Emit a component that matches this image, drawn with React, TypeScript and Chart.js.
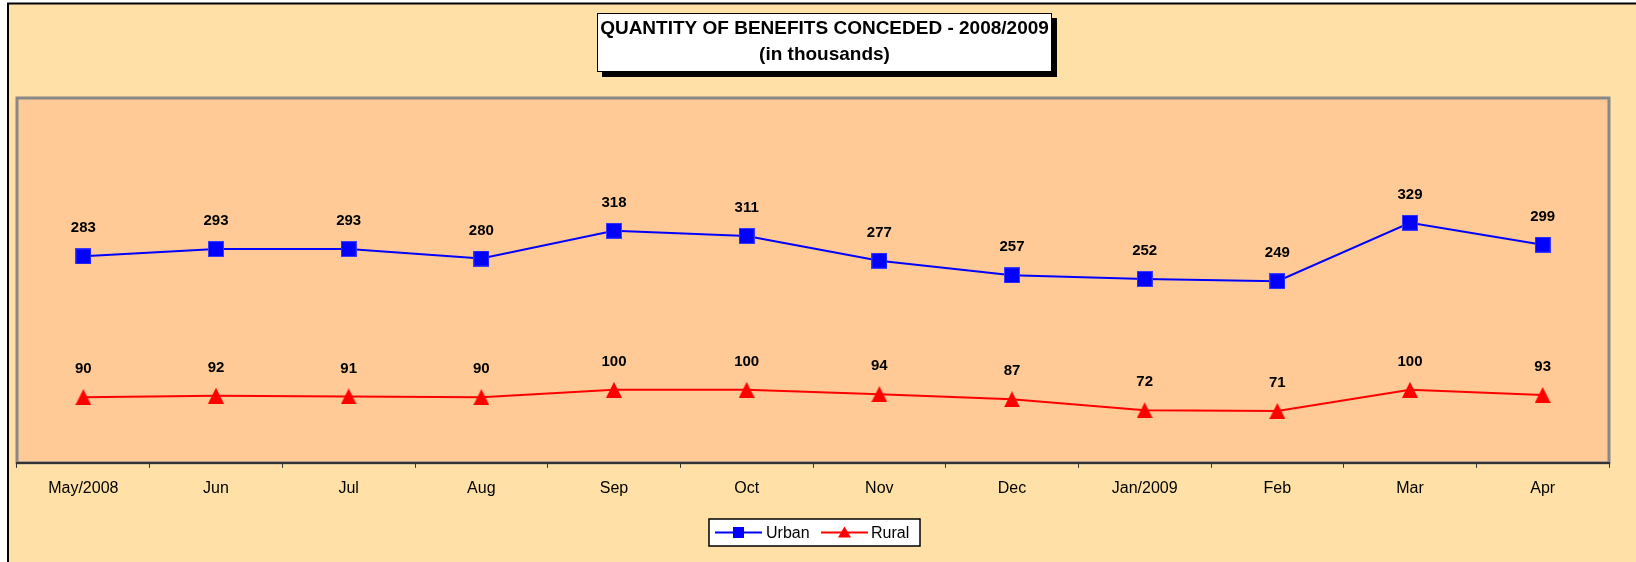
import React, { useEffect, useRef } from "react";
import { Chart, registerables } from "chart.js";

Chart.register(...registerables);

const categories = ["May/2008", "Jun", "Jul", "Aug", "Sep", "Oct", "Nov", "Dec", "Jan/2009", "Feb", "Mar", "Apr"];
const urbanValues = [283, 293, 293, 280, 318, 311, 277, 257, 252, 249, 329, 299];
const ruralValues = [90, 92, 91, 90, 100, 100, 94, 87, 72, 71, 100, 93];
const titleLines = ["QUANTITY OF BENEFITS CONCEDED - 2008/2009", "(in thousands)"];
const seriesNames = ["Urban", "Rural"];

const FONT = "'Liberation Sans', Arial, Helvetica, sans-serif";
const BLUE = "#0000FF";
const RED = "#FF0000";

function makeTriangle(color: string): HTMLCanvasElement {
  const c = document.createElement("canvas");
  c.width = 16;
  c.height = 16;
  const g = c.getContext("2d")!;
  g.fillStyle = color;
  g.beginPath();
  g.moveTo(8, 0);
  g.lineTo(16, 16);
  g.lineTo(0, 16);
  g.closePath();
  g.fill();
  return c;
}

function makeSquare(color: string, border: string): HTMLCanvasElement {
  const c = document.createElement("canvas");
  c.width = 16;
  c.height = 16;
  const g = c.getContext("2d")!;
  g.fillStyle = border;
  g.fillRect(0, 0, 16, 16);
  g.fillStyle = color;
  g.fillRect(1, 1, 14, 14);
  return c;
}

const backgroundPlugin = {
  id: "bgPlugin",
  beforeDraw(chart: any) {
    const { ctx, chartArea, width, height } = chart;
    ctx.save();
    ctx.fillStyle = "#FFFFFF";
    ctx.fillRect(0, 0, width, height);
    ctx.fillStyle = "#FFE0A6";
    ctx.fillRect(8, 3, width, height);
    ctx.strokeStyle = "#000000";
    ctx.lineWidth = 2;
    ctx.beginPath();
    ctx.moveTo(8, height + 5);
    ctx.lineTo(8, 3.5);
    ctx.lineTo(width + 5, 3.5);
    ctx.stroke();
    // plot area
    ctx.fillStyle = "#FFCA96";
    ctx.fillRect(chartArea.left, chartArea.top, chartArea.right - chartArea.left, chartArea.bottom - chartArea.top);
    ctx.strokeStyle = "#888888";
    ctx.lineWidth = 3;
    ctx.strokeRect(chartArea.left, chartArea.top, chartArea.right - chartArea.left, chartArea.bottom - chartArea.top);
    ctx.restore();
  },
};

const labelsPlugin = {
  id: "labelsPlugin",
  afterDatasetsDraw(chart: any) {
    const { ctx } = chart;
    ctx.save();
    ctx.font = `bold 15px ${FONT}`;
    ctx.fillStyle = "#000000";
    ctx.textAlign = "center";
    ctx.textBaseline = "middle";
    chart.data.datasets.forEach((ds: any, i: number) => {
      const meta = chart.getDatasetMeta(i);
      meta.data.forEach((pt: any, j: number) => {
        ctx.fillText(String(ds.data[j]), pt.x, pt.y - 28);
      });
    });
    ctx.restore();
  },
};

const decorPlugin = {
  id: "decorPlugin",
  afterDraw(chart: any) {
    const { ctx } = chart;
    ctx.save();
    // title box
    const bx = 597, by = 13, bw = 455, bh = 59;
    ctx.fillStyle = "#000000";
    ctx.fillRect(bx + 5, by + 5, bw, bh);
    ctx.fillStyle = "#FFFFFF";
    ctx.fillRect(bx, by, bw, bh);
    ctx.strokeStyle = "#000000";
    ctx.lineWidth = 1;
    ctx.strokeRect(bx + 0.5, by + 0.5, bw - 1, bh - 1);
    ctx.fillStyle = "#000000";
    ctx.textAlign = "center";
    ctx.textBaseline = "middle";
    ctx.font = `bold 19px ${FONT}`;
    ctx.fillText(titleLines[0], bx + bw / 2, 29);
    ctx.fillText(titleLines[1], bx + bw / 2, 54.5);

    // legend
    const lx = 709, ly = 519, lw = 211, lh = 27;
    ctx.fillStyle = "#FFFFFF";
    ctx.fillRect(lx, ly, lw, lh);
    ctx.strokeStyle = "#000000";
    ctx.lineWidth = 1.5;
    ctx.strokeRect(lx, ly, lw, lh);
    const cy = ly + lh / 2;
    const items = [
      { x0: 715, x1: 762, color: BLUE, name: seriesNames[0], tx: 766, kind: "sq" },
      { x0: 821, x1: 868, color: RED, name: seriesNames[1], tx: 871, kind: "tri" },
    ];
    items.forEach((it) => {
      ctx.strokeStyle = it.color;
      ctx.lineWidth = 2;
      ctx.beginPath();
      ctx.moveTo(it.x0, cy);
      ctx.lineTo(it.x1, cy);
      ctx.stroke();
      const mx = (it.x0 + it.x1) / 2;
      ctx.fillStyle = it.color;
      if (it.kind === "sq") {
        ctx.fillRect(mx - 5.5, cy - 5.5, 11, 11);
      } else {
        ctx.beginPath();
        ctx.moveTo(mx, cy - 6);
        ctx.lineTo(mx + 6.5, cy + 5);
        ctx.lineTo(mx - 6.5, cy + 5);
        ctx.closePath();
        ctx.fill();
      }
      ctx.fillStyle = "#000000";
      ctx.textAlign = "left";
      ctx.font = `16px ${FONT}`;
      ctx.fillText(it.name, it.tx, cy + 1);
    });
    ctx.restore();
  },
};

export default function App() {
  const ref = useRef<HTMLCanvasElement | null>(null);
  useEffect(() => {
    if (!ref.current) return;
    const chart = new Chart(ref.current, {
      type: "line",
      data: {
        labels: categories,
        datasets: [
          {
            label: seriesNames[0],
            data: urbanValues,
            borderColor: BLUE,
            backgroundColor: BLUE,
            borderWidth: 2,
            pointStyle: makeSquare(BLUE, "#3A3AFF") as any,
            pointRadius: 8,
            tension: 0,
          },
          {
            label: seriesNames[1],
            data: ruralValues,
            borderColor: RED,
            backgroundColor: RED,
            borderWidth: 2,
            pointStyle: makeTriangle(RED) as any,
            pointRadius: 8,
            tension: 0,
          },
        ],
      },
      options: {
        responsive: false,
        animation: false,
        devicePixelRatio: 1,
        layout: { padding: { left: 17, top: 98, right: 27, bottom: 53 } },
        plugins: {
          legend: { display: false },
          title: { display: false },
          tooltip: { enabled: false },
        },
        scales: {
          x: {
            offset: true,
            grid: {
              display: true,
              offset: true,
              drawOnChartArea: false,
              tickLength: 5,
              color: "#333333",
              lineWidth: 1,
            },
            border: { display: true, color: "#333333", width: 2 },
            ticks: {
              color: "#000000",
              font: { family: FONT, size: 16 },
              padding: 11,
              maxRotation: 0,
              autoSkip: false,
            },
          },
          y: {
            display: false,
            min: 0,
            max: 500,
          },
        },
      },
      plugins: [backgroundPlugin, labelsPlugin, decorPlugin],
    });
    return () => chart.destroy();
  }, []);
  return (
    <div style={{ position: "fixed", left: 0, top: 0, width: 1636, height: 562 }}>
      <canvas ref={ref} width={1636} height={562} style={{ display: "block" }} />
    </div>
  );
}
